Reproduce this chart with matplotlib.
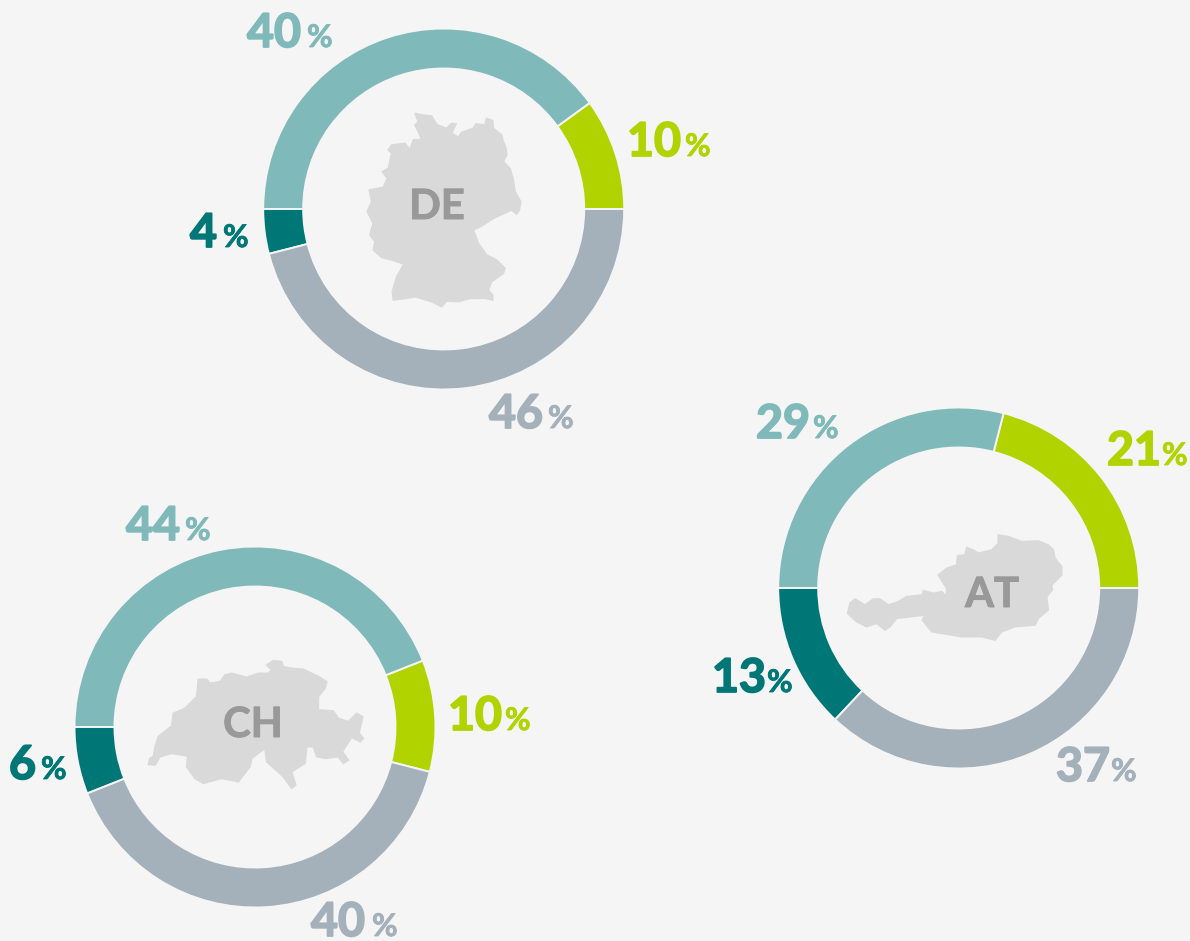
import matplotlib
matplotlib.use("Agg")
from matplotlib import pyplot as plt
from matplotlib.patches import Polygon
from matplotlib import patheffects as pe

BG = "#f5f5f5"
colors = ["#b1d400", "#80b9b9", "#007777", "#a4b1ba"]
colors_txt = colors

# shares: green, light teal, dark teal, grey
de_vals = [10, 40, 4, 46]
at_vals = [21, 29, 13, 37]
ch_vals = [10, 44, 6, 40]

de_center = (443.7, 209)
at_center = (958.7, 588)
ch_center = (255, 727)
radius = 180.5

# number x, baseline y, percent x
de_pos = [(627, 156, 685), (247, 47, 307), (190, 247, 223), (489, 428, 548)]
at_pos = [(1107, 465, 1162), (756, 438, 813), (712, 692, 767), (1056, 781, 1111)]
ch_pos = [(448, 730, 505), (126, 540, 185), (9, 779, 41), (311, 936, 372)]

# country outlines, in 3x zoom pixels
de_shape = [(195,40),(215,45),(245,48),(255,65),(262,75),(290,85),(305,70),(318,72),(305,100),(325,112),(335,97),(370,85),(378,72),(405,75),(410,55),(428,62),(430,85),(455,105),(458,120),(468,145),(470,165),(460,185),(480,205),(490,240),(495,275),(512,305),(508,330),(500,342),(485,330),(430,355),(395,378),(370,390),(385,430),(410,465),(440,480),(465,505),(460,520),(425,545),(415,570),(428,585),(428,600),(405,595),(360,595),(325,605),(290,603),(275,620),(245,605),(195,590),(170,595),(130,600),(127,575),(140,530),(162,492),(125,480),(95,472),(70,450),(75,425),(60,405),(65,385),(70,370),(52,335),(65,305),(58,270),(100,262),(112,235),(97,215),(115,205),(125,160),(115,150),(125,135),(165,130),(180,150),(190,120),(215,118),(205,95),(195,75),(205,65)]
at_shape = [(490,30),(520,35),(560,50),(610,48),(640,60),(655,75),(660,100),(680,125),(680,150),(650,180),(652,195),(635,215),(640,255),(610,280),(600,300),(540,305),(500,320),(480,345),(440,335),(380,335),(290,320),(262,285),(270,270),(185,280),(165,305),(150,315),(125,295),(95,305),(65,290),(38,265),(45,235),(60,222),(90,240),(115,222),(135,222),(160,240),(190,230),(215,215),(262,210),(265,197),(295,205),(320,200),(335,215),(335,190),(310,150),(335,130),(365,120),(368,92),(390,90),(395,68),(415,75),(430,85),(470,75),(490,55)]
ch_shape = [(395,45),(415,32),(440,35),(445,50),(470,55),(505,58),(555,82),(575,95),(570,115),(550,140),(550,180),(595,183),(610,205),(640,215),(665,190),(683,200),(672,250),(685,265),(675,275),(650,262),(635,285),(622,305),(640,330),(625,340),(610,320),(570,325),(545,320),(535,290),(515,290),(510,340),(470,365),(482,405),(470,415),(445,380),(395,335),(390,295),(350,325),(345,350),(310,395),(260,385),(205,400),(180,385),(155,350),(158,318),(110,310),(75,320),(60,345),(40,343),(45,325),(55,320),(60,290),(70,260),(110,228),(115,190),(150,175),(185,140),(190,88),(215,88),(225,100),(255,95),(270,75),(290,70),(335,82),(370,70),(400,70),(410,60)]

W, H = 1190, 941
fig = plt.figure(figsize=(W / 100, H / 100), dpi=100, facecolor=BG)
plt.rcParams["font.family"] = "Lato"

# pixel overlay for maps and labels
px = fig.add_axes([0, 0, 1, 1], zorder=1)
px.set_xlim(0, W)
px.set_ylim(H, 0)
px.axis("off")


def donut(vals, center):
    cx, cy = center
    ax = fig.add_axes([(cx - radius) / W, 1 - (cy + radius) / H, 2 * radius / W, 2 * radius / H], zorder=2)
    # light teal always ends at nine o'clock
    start = 180 - (vals[0] + vals[1]) * 3.6
    ax.pie(vals, colors=colors, startangle=start, counterclock=True, radius=1,
           wedgeprops=dict(width=40 / radius, edgecolor=BG, linewidth=1.4))
    ax.set_xlim(-1, 1)
    ax.set_ylim(-1, 1)
    ax.patch.set_alpha(0)


def labels(vals, pos):
    for v, (x, y, xp), c in zip(vals, pos, colors_txt):
        t = px.text(x, y, str(v), color=c, fontsize=33.5, fontweight="bold", ha="left", va="baseline")
        t.set_path_effects([pe.withStroke(linewidth=1.3, foreground=c)])
        t = px.text(xp, y, "%", color=c, fontsize=22.5, fontweight="bold", ha="left", va="baseline")
        t.set_path_effects([pe.withStroke(linewidth=0.6, foreground=c)])


def shape(points, x0, y0):
    pts = [(x0 + a / 3, y0 + b / 3) for a, b in points]
    px.add_patch(Polygon(pts, closed=True, facecolor="#d9d9d9", edgecolor="#d9d9d9", linewidth=1.2))


donut(de_vals, de_center)
donut(at_vals, at_center)
donut(ch_vals, ch_center)
labels(de_vals, de_pos)
labels(at_vals, at_pos)
labels(ch_vals, ch_pos)

shape(de_shape, 350, 100)
shape(at_shape, 835, 525)
shape(ch_shape, 135, 650)

for name, x, y in [("DE", 437, 219), ("AT", 992, 607), ("CH", 253, 737)]:
    t = px.text(x, y, name, color="#999999", fontsize=30, fontweight="bold", ha="center", va="baseline")
    t.set_path_effects([pe.withStroke(linewidth=0.7, foreground="#999999")])

fig.savefig("out.png", dpi=100, facecolor=BG)
